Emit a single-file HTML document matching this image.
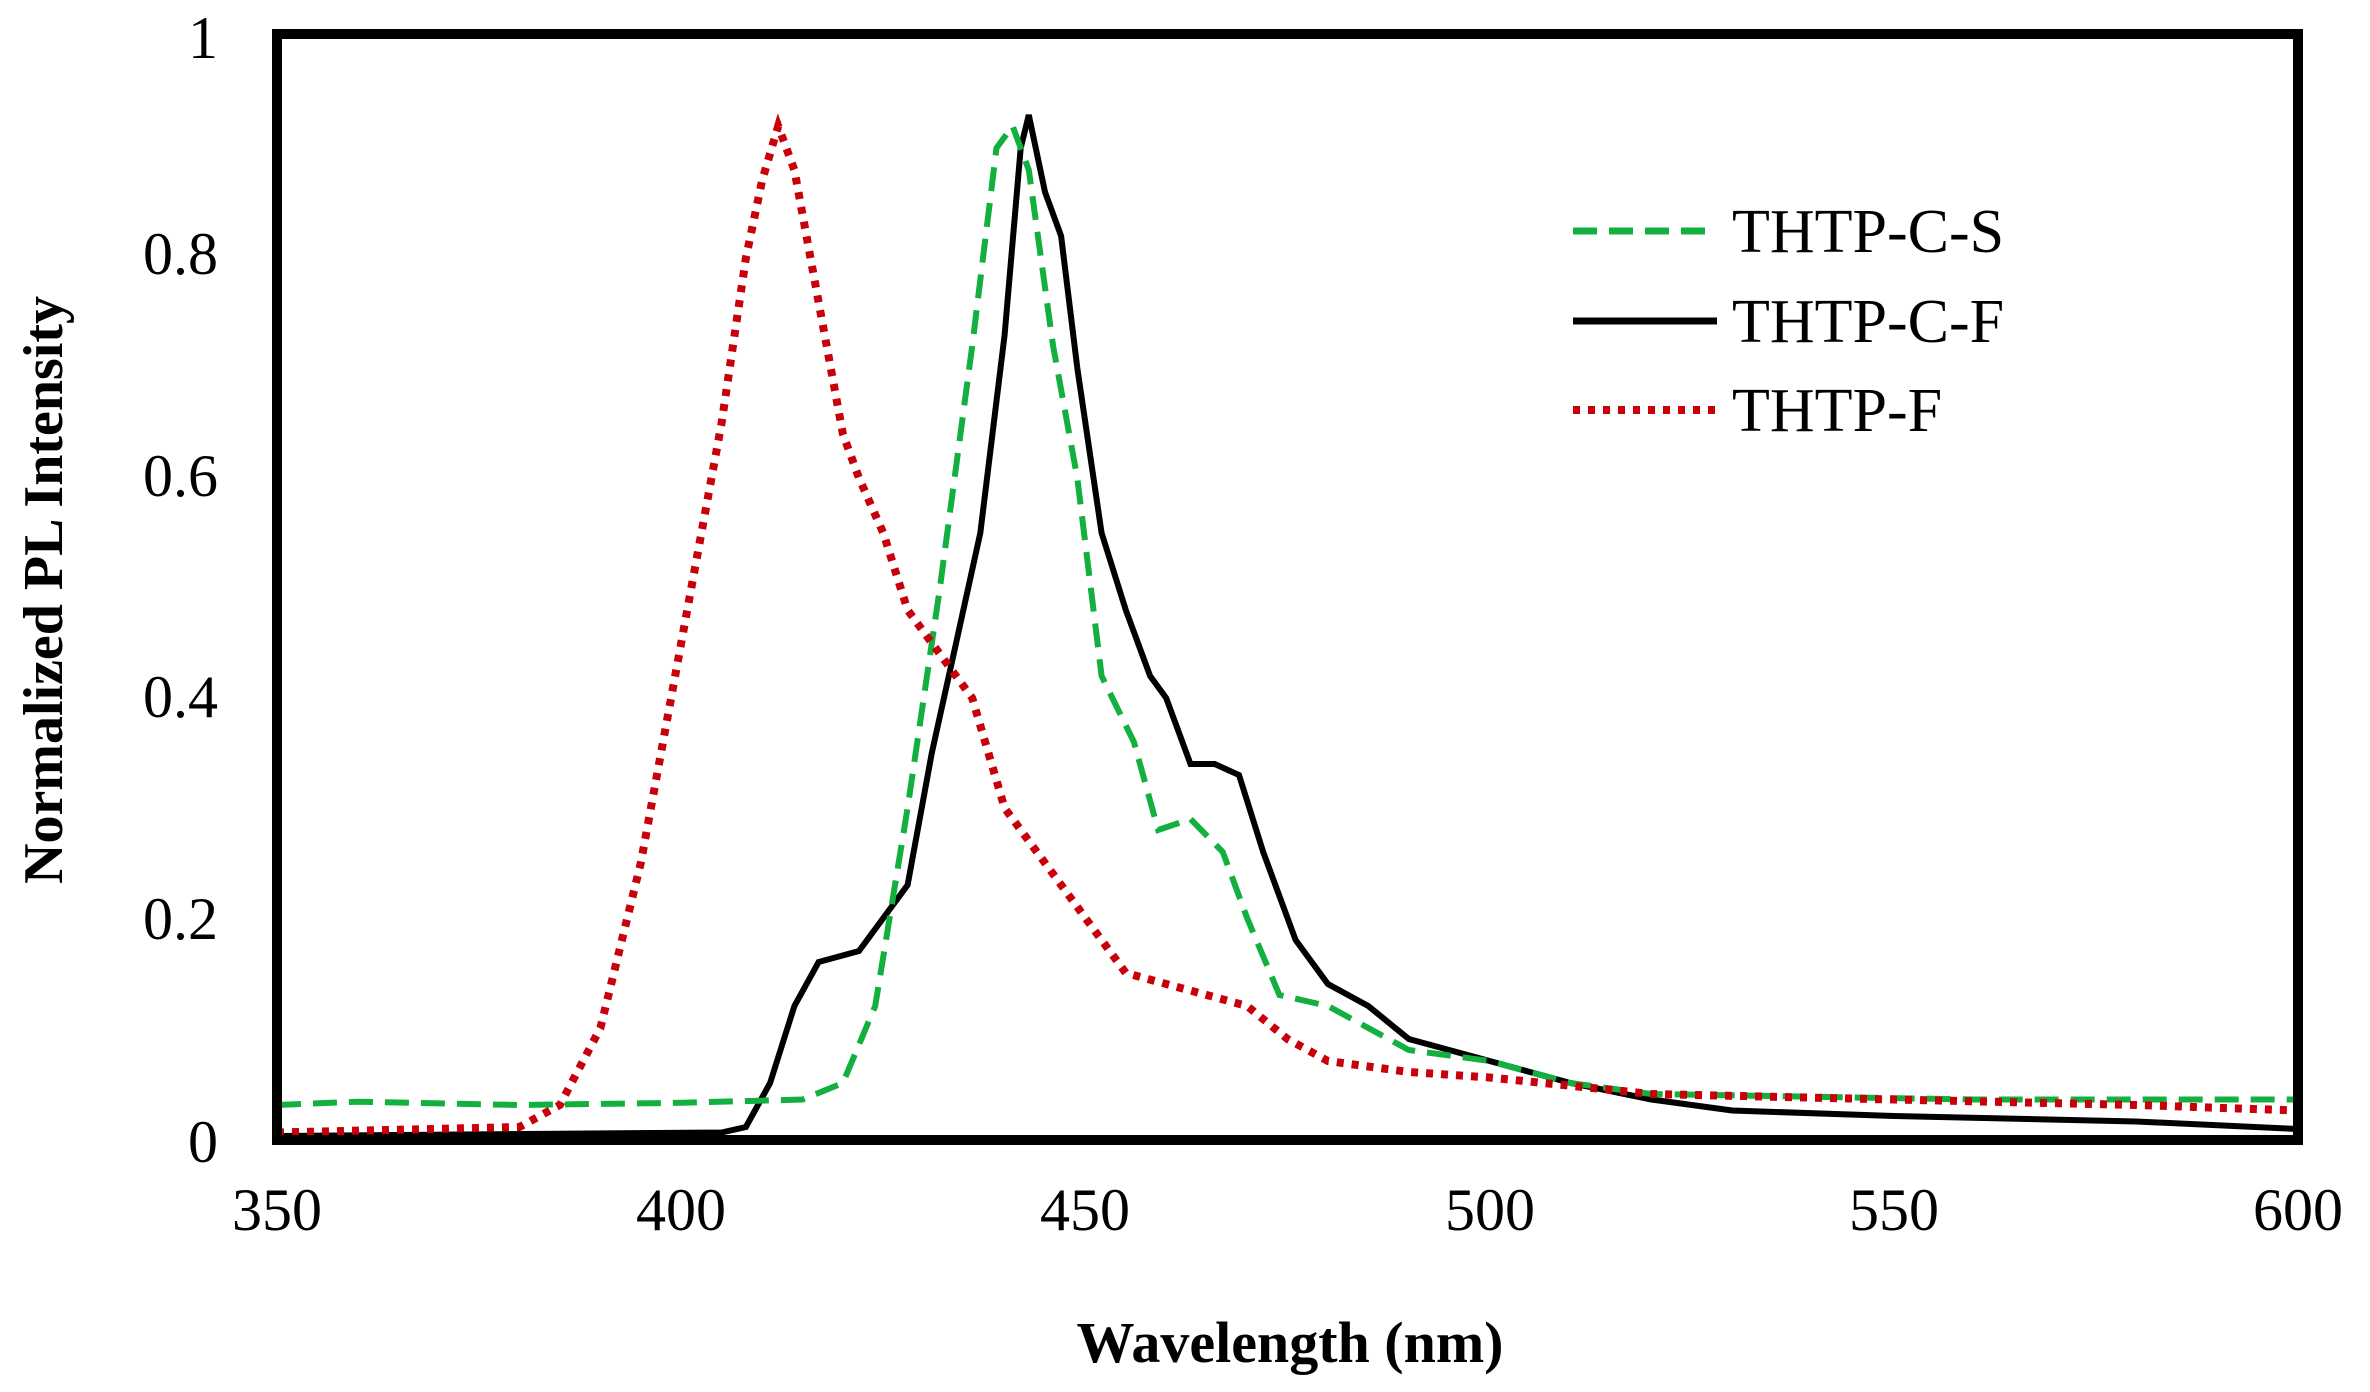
<!DOCTYPE html>
<html><head><style>body{margin:0;background:#fff}svg{display:block}</style></head><body>
<svg width="2370" height="1392" xmlns="http://www.w3.org/2000/svg" font-family="'Liberation Serif',serif">
<rect width="2370" height="1392" fill="#fff"/>
<polyline fill="none" stroke="#000" stroke-width="6" points="277,1136 721.6,1132.5 745.9,1127 770.1,1083 794.4,1006 818.6,962 859,951 907.6,885 931.8,753 956.1,643 980.3,533 1004.6,335 1020.7,148 1028.8,115 1045,192 1061.1,236 1077.3,368 1101.6,533 1125.8,610 1150.1,676 1166.2,698 1190.5,764 1214.7,764 1239,775 1263.2,852 1295.6,940 1327.9,984 1368.3,1006 1408.8,1039 1489.6,1061 1570.4,1083 1651.3,1099.5 1732.1,1110.5 1893.8,1116 2136.3,1121.5 2298,1129"/>
<polyline fill="none" stroke="#13b040" stroke-width="6" stroke-dasharray="24 12" points="277,1105 357.8,1101.7 519.5,1105 681.2,1102.8 802.5,1099.5 842.9,1083 875.2,1006 907.6,808 939.9,588 972.2,346 996.5,148 1012.6,126 1028.8,170 1053.1,346 1077.3,478 1101.6,676 1133.9,742 1158.2,830 1190.5,819 1222.8,852 1247.1,918 1279.4,995 1327.9,1006 1408.8,1050 1489.6,1061 1570.4,1083 1651.3,1094 1974.6,1099.5 2298,1099.5"/>
<polyline fill="none" stroke="#c8000a" stroke-width="8" stroke-dasharray="7 8" points="277,1132.5 519.5,1127 559.9,1105 600.4,1028 640.8,863 681.2,643 721.6,423 745.9,258 762,181 778.2,126 794.4,170 810.5,258 826.7,346 842.9,434 859,478 883.3,533 907.6,610 939.9,654 972.2,698 1004.6,808 1045,863 1085.4,918 1125.8,973 1166.2,984 1206.7,995 1247.1,1006 1287.5,1039 1327.9,1061 1408.8,1072 1489.6,1077.5 1651.3,1094 1893.8,1099.5 2136.3,1105 2298,1110.5"/>
<rect x="277" y="34" width="2021" height="1106" fill="none" stroke="#000" stroke-width="10"/>
<g font-size="60" text-anchor="end" fill="#000">
<text x="218" y="58">1</text><text x="218" y="274">0.8</text><text x="218" y="496">0.6</text>
<text x="218" y="717">0.4</text><text x="218" y="939">0.2</text><text x="218" y="1162">0</text>
</g>
<g font-size="60" text-anchor="middle" fill="#000">
<text x="277" y="1230">350</text><text x="681" y="1230">400</text><text x="1085" y="1230">450</text>
<text x="1490" y="1230">500</text><text x="1894" y="1230">550</text><text x="2298" y="1230">600</text>
</g>
<text x="1290" y="1362" font-size="58" font-weight="bold" text-anchor="middle">Wavelength (nm)</text>
<text transform="translate(62,590) rotate(-90)" font-size="56" font-weight="bold" text-anchor="middle">Normalized PL Intensity</text>
<g font-size="62" fill="#000">
<line x1="1573" y1="231" x2="1717" y2="231" stroke="#13b040" stroke-width="7" stroke-dasharray="24 12"/>
<text x="1732" y="252">THTP-C-S</text>
<line x1="1573" y1="321" x2="1717" y2="321" stroke="#000" stroke-width="7"/>
<text x="1732" y="342">THTP-C-F</text>
<line x1="1573" y1="410" x2="1717" y2="410" stroke="#c8000a" stroke-width="8" stroke-dasharray="7 8"/>
<text x="1732" y="431">THTP-F</text>
</g>
</svg>
</body></html>
